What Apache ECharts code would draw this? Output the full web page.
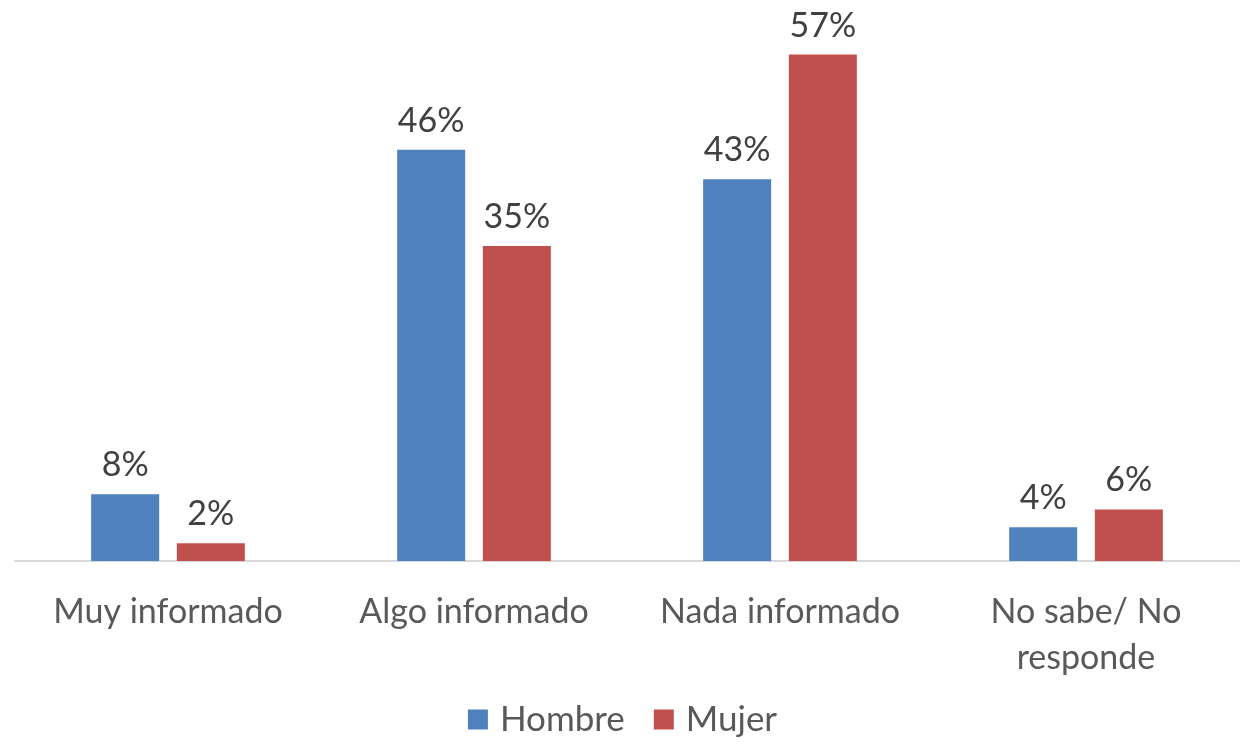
<!DOCTYPE html>
<html>
<head>
<meta charset="utf-8">
<script src="https://cdn.jsdelivr.net/npm/echarts@6/dist/echarts.min.js"></script>
<style>
  html, body { margin: 0; padding: 0; background: #fff; }
  #main { width: 1245px; height: 747px; }
</style>
</head>
<body>
<div id="main"></div>
<script>
// categorias y valores (porcentaje)
const categories = ["Muy informado", "Algo informado", "Nada informado", "No sabe/ No\nresponde"];
const hombre = [7.5, 46.2, 42.9, 3.8];
const mujer = [2.0, 35.4, 56.9, 5.8];

let myChart = echarts.init(document.getElementById("main"));
const font = "Lato, 'Open Sans', sans-serif";

let option = {
  animation: false,
  textStyle: { fontFamily: font },
  legend: {
    bottom: 5,
    left: "center",
    itemWidth: 20,
    itemHeight: 20,
    itemGap: 29,
    icon: "rect",
    textStyle: { fontSize: 35, color: "#595959", fontFamily: font, padding: [0, 0, 0, 7] },
    data: ["Hombre", "Mujer"],
  },
  grid: {
    left: 15,
    right: 6,
    top: 27,
    bottom: 186,
  },
  xAxis: {
    type: "category",
    data: categories,
    axisLine: { lineStyle: { color: "#d9d9d9", width: 2 } },
    axisTick: { show: false },
    axisLabel: {
      interval: 0,
      color: "#595959",
      fontSize: 34,
      fontFamily: font,
      margin: 28,
      lineHeight: 46,
    },
  },
  yAxis: {
    type: "value",
    min: 0,
    max: 60,
    show: false,
    splitLine: { show: false },
  },
  series: [
    {
      name: "Hombre",
      type: "bar",
      data: hombre,
      barWidth: 68,
      barGap: "26%",
      itemStyle: { color: "#4f81bd" },
      label: {
        show: true,
        position: "top",
        distance: 12,
        fontSize: 34,
        color: "#404040",
        fontFamily: font,
        formatter: (p) => Math.round(p.value) + "%",
      },
    },
    {
      name: "Mujer",
      type: "bar",
      data: mujer,
      barWidth: 68,
      itemStyle: { color: "#c0504d" },
      label: {
        show: true,
        position: "top",
        distance: 12,
        fontSize: 34,
        color: "#404040",
        fontFamily: font,
        formatter: (p) => Math.round(p.value) + "%",
      },
    },
  ],
};
myChart.setOption(option);
</script>
</body>
</html>
